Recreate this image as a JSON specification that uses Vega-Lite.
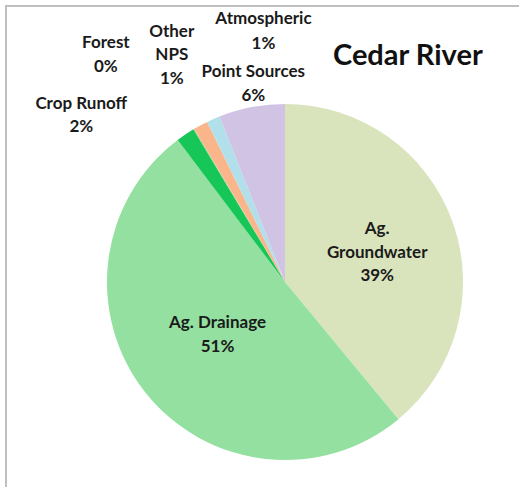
{
  "$schema": "https://vega.github.io/schema/vega-lite/v6.json",
  "width": 558,
  "height": 552,
  "autosize": {"type": "none"},
  "padding": {"left": 6, "top": 6, "right": -45, "bottom": -71},
  "background": "white",
  "view": {"stroke": "#bfbfbf", "strokeWidth": 2},
  "title": {
    "text": "Cedar River",
    "anchor": "start",
    "frame": "group",
    "dx": 327,
    "offset": -96,
    "baseline": "alphabetic",
    "font": "Lato",
    "fontSize": 29,
    "fontWeight": "bold",
    "color": "#111111"
  },
  "data": {
    "values": [
      {"source": "Ag. Groundwater", "share": 39, "label": "Ag.\nGroundwater\n39%"},
      {"source": "Ag. Drainage", "share": 50.7, "label": "Ag. Drainage\n51%"},
      {"source": "Crop Runoff", "share": 1.7, "label": "Crop Runoff\n2%"},
      {"source": "Forest", "share": 0.1, "label": "Forest\n0%"},
      {"source": "Other NPS", "share": 1.3, "label": "Other\nNPS\n1%"},
      {"source": "Atmospheric", "share": 1.2, "label": "Atmospheric\n1%"},
      {"source": "Point Sources", "share": 6, "label": "Point Sources\n6%"}
    ]
  },
  "transform": [{"window": [{"op": "row_number", "as": "idx"}]}],
  "encoding": {
    "theta": {"field": "share", "type": "quantitative", "stack": true},
    "order": {"field": "idx", "type": "quantitative"}
  },
  "layer": [
    {
      "mark": {"type": "arc", "outerRadius": 178},
      "encoding": {
        "color": {
          "field": "source",
          "type": "nominal",
          "legend": null,
          "scale": {
            "domain": ["Ag. Groundwater", "Ag. Drainage", "Crop Runoff", "Forest", "Other NPS", "Atmospheric", "Point Sources"],
            "range": ["#d9e4bd", "#93e0a0", "#16c656", "#a9d18e", "#fbb58a", "#b1e0ea", "#d0c3e4"]
          }
        }
      }
    },
    {
      "mark": {"type": "text", "radius": 98, "dy": -19.5, "font": "Lato", "fontSize": 17, "fontWeight": "bold", "lineHeight": 23.5, "lineBreak": "\n", "align": "center", "baseline": "middle", "fill": "#1a1a1a"},
      "encoding": {
        "detail": {"field": "source"},
        "text": {"condition": {"test": "datum.source === 'Ag. Groundwater'", "field": "label"}, "value": ""}
      }
    },
    {
      "mark": {"type": "text", "radius": 86, "dy": -12, "font": "Lato", "fontSize": 17, "fontWeight": "bold", "lineHeight": 23.5, "lineBreak": "\n", "align": "center", "baseline": "middle", "fill": "#1a1a1a"},
      "encoding": {
        "detail": {"field": "source"},
        "text": {"condition": {"test": "datum.source === 'Ag. Drainage'", "field": "label"}, "value": ""}
      }
    },
    {
      "mark": {"type": "text", "radius": 180, "dx": -103, "dy": -29, "font": "Lato", "fontSize": 17, "fontWeight": "bold", "lineHeight": 23.5, "lineBreak": "\n", "align": "center", "baseline": "middle", "fill": "#1a1a1a"},
      "encoding": {
        "detail": {"field": "source"},
        "text": {"condition": {"test": "datum.source === 'Crop Runoff'", "field": "label"}, "value": ""}
      }
    },
    {
      "mark": {"type": "text", "radius": 180, "dx": -87, "dy": -84, "font": "Lato", "fontSize": 17, "fontWeight": "bold", "lineHeight": 23.5, "lineBreak": "\n", "align": "center", "baseline": "middle", "fill": "#1a1a1a"},
      "encoding": {
        "detail": {"field": "source"},
        "text": {"condition": {"test": "datum.source === 'Forest'", "field": "label"}, "value": ""}
      }
    },
    {
      "mark": {"type": "text", "radius": 180, "dx": -28, "dy": -91.5, "font": "Lato", "fontSize": 17, "fontWeight": "bold", "lineHeight": 23.5, "lineBreak": "\n", "align": "center", "baseline": "middle", "fill": "#1a1a1a"},
      "encoding": {
        "detail": {"field": "source"},
        "text": {"condition": {"test": "datum.source === 'Other NPS'", "field": "label"}, "value": ""}
      }
    },
    {
      "mark": {"type": "text", "radius": 180, "dx": 51, "dy": -98, "font": "Lato", "fontSize": 17, "fontWeight": "bold", "lineHeight": 25, "lineBreak": "\n", "align": "center", "baseline": "middle", "fill": "#1a1a1a"},
      "encoding": {
        "detail": {"field": "source"},
        "text": {"condition": {"test": "datum.source === 'Atmospheric'", "field": "label"}, "value": ""}
      }
    },
    {
      "mark": {"type": "text", "radius": 180, "dx": 2, "dy": -33, "font": "Lato", "fontSize": 17, "fontWeight": "bold", "lineHeight": 23.5, "lineBreak": "\n", "align": "center", "baseline": "middle", "fill": "#1a1a1a"},
      "encoding": {
        "detail": {"field": "source"},
        "text": {"condition": {"test": "datum.source === 'Point Sources'", "field": "label"}, "value": ""}
      }
    }
  ]
}
